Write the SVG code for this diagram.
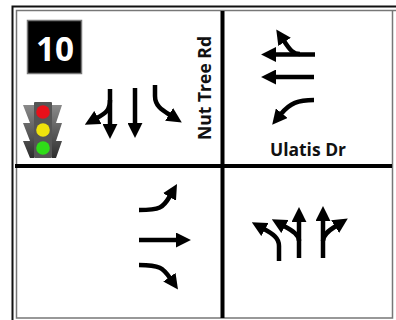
<svg xmlns="http://www.w3.org/2000/svg" width="396" height="320" viewBox="0 0 396 320">
<style>
.a{fill:none;stroke:#000;stroke-width:4.500;marker-end:url(#h)}
.b{fill:none;stroke:#000;stroke-width:4.500}
.d{stroke:#000;stroke-width:4}
.t{font-family:"Open Sans","Noto Sans",sans-serif;font-weight:700;fill:#111;font-size:18px}
</style>
<defs>
<marker id="h" viewBox="0 0 14 14" refX="1" refY="7" markerWidth="15" markerHeight="15" markerUnits="userSpaceOnUse" orient="auto"><path d="M0 0L14 7L0 14Z" fill="#000"/></marker>
<linearGradient id="g" x1="0" y1="0" x2="0" y2="1"><stop offset="0" stop-color="#8a8a8a"/><stop offset="1" stop-color="#2e2e2e"/></linearGradient>
</defs>
<rect width="396" height="320" fill="#fff"/>
<g id="frame">
<path d="M396 6.500H12.500V320" fill="none" stroke="#111" stroke-width="2"/>
<path d="M396 10.500H16.500V318H392.500V10.500" fill="none" stroke="#777" stroke-width="1.500"/>
</g>
<g id="dividers">
<line class="d" x1="222.500" y1="11" x2="222.500" y2="318"/>
<line class="d" x1="15" y1="166" x2="392" y2="166"/>
</g>
<g id="badge">
<rect x="27.500" y="20.500" width="54" height="53" fill="#000" stroke="#777" stroke-width="1.500"/>
<text x="55" y="61" text-anchor="middle" font-family="Open Sans, sans-serif" font-weight="700" font-size="34" fill="#fff" textLength="38" lengthAdjust="spacingAndGlyphs">10</text>
</g>
<g id="signal">
<path fill="url(#g)" d="M23 105H34V123H30Z M52 105H62L56 123H52Z M23 123H34V141H30Z M52 123H62L56 141H52Z M23 141H34V158H30Z M52 141H62L56 158H52Z"/>
<rect x="34" y="102" width="18" height="56" rx="1" fill="#555"/>
<circle cx="43" cy="112" r="6.800" fill="#e8101a"/>
<circle cx="43" cy="130" r="6.800" fill="#eee20c"/>
<circle cx="43" cy="148" r="6.800" fill="#2fdc18"/>
</g>
<g id="labels">
<text class="t" transform="translate(211 140) rotate(-90)" textLength="104" lengthAdjust="spacingAndGlyphs">Nut Tree Rd</text>
<text class="t" x="270" y="156" textLength="76" lengthAdjust="spacingAndGlyphs">Ulatis Dr</text>
</g>
<g id="connectors">
<path class="a" d="M110 89V125"/>
<path class="a" d="M110 100C110 110 106 113 97 118"/>
<path class="a" d="M135 88V124"/>
<path class="a" d="M155 85V96C155 106 162 110 170 115"/>
<path class="a" d="M315 54.500H275"/>
<path class="a" d="M300 54C293 54 290 50 284 41"/>
<path class="a" d="M314 77H275"/>
<path class="a" d="M314 100C298 100 290 103 281 114"/>
<path class="a" d="M139 210C160 210 163 208 170 196"/>
<path class="a" d="M139 240H177"/>
<path class="a" d="M139 265C160 265 163 268 170 278"/>
<path class="a" d="M279 261V246C279 238 273 234 264 229"/>
<path class="a" d="M299 258V221"/>
<path class="a" d="M299 241C299 235 293 231 284 226"/>
<path class="a" d="M323 258V220"/>
<path class="a" d="M323 241C323 235 328 231 336 226"/>
</g>
</svg>
